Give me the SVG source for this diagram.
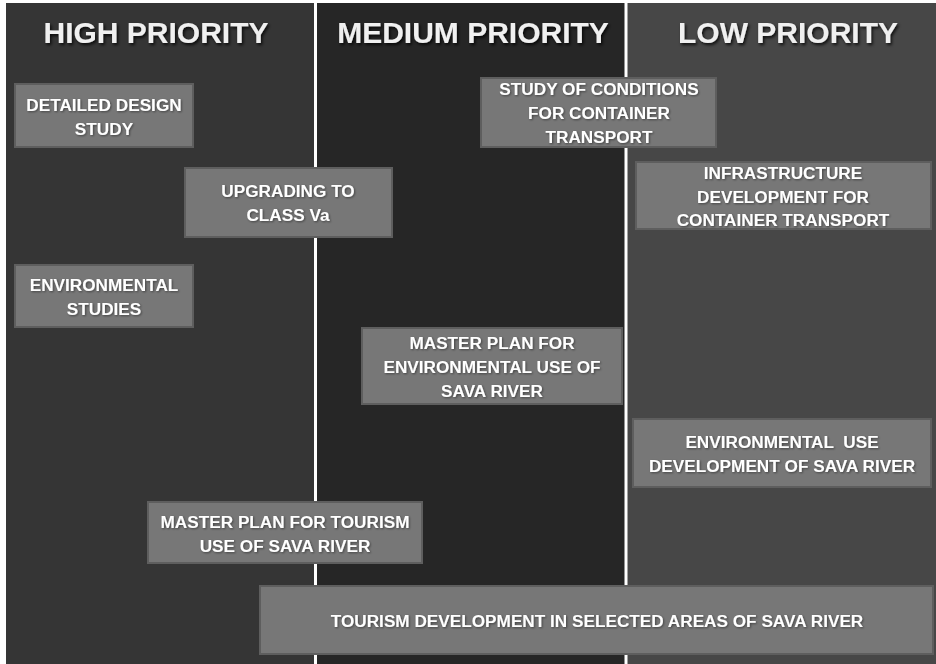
<svg xmlns="http://www.w3.org/2000/svg" width="936" height="664" viewBox="0 0 936 664">
  <defs>
    <filter id="hs" x="-10%" y="-30%" width="120%" height="160%">
      <feDropShadow dx="1.5" dy="2" stdDeviation="1.5" flood-color="#000" flood-opacity="0.8"/>
    </filter>
    <filter id="ts" x="-5%" y="-30%" width="110%" height="160%">
      <feDropShadow dx="1" dy="1" stdDeviation="0.8" flood-color="#000" flood-opacity="0.45"/>
    </filter>
  </defs>
  <style>
    .hdr { font-family: "Liberation Sans", Arial, sans-serif; font-weight: bold; font-size: 30px; fill: #f0f0f0; text-anchor: middle; }
    .box { fill: #777777; stroke: #5e5e5e; stroke-width: 2; }
    .lbl { font-family: "Liberation Sans", Arial, sans-serif; font-weight: bold; font-size: 17.2px; fill: #ffffff; text-anchor: middle; }
    .div { stroke: #ffffff; stroke-width: 3; }
  </style>
  <rect x="0" y="0" width="936" height="664" fill="#ffffff"/>
  <g id="columns">
    <rect x="6" y="3" width="309" height="661" fill="#353535"/>
    <rect x="315" y="3" width="311" height="661" fill="#262626"/>
    <rect x="626" y="3" width="310" height="661" fill="#474747"/>
  </g>
  <g id="connectors">
    <line class="div" x1="315.5" y1="3" x2="315.5" y2="664"/>
    <line class="div" x1="626" y1="3" x2="626" y2="664"/>
  </g>
  <g id="headers" filter="url(#hs)">
    <text class="hdr" x="156" y="43">HIGH PRIORITY</text>
    <text class="hdr" x="473" y="43">MEDIUM PRIORITY</text>
    <text class="hdr" x="788" y="43">LOW PRIORITY</text>
  </g>
  <g id="n1">
    <rect class="box" x="15" y="84" width="178" height="63"/>
    <text class="lbl" filter="url(#ts)" x="104" y="111">DETAILED DESIGN</text>
    <text class="lbl" filter="url(#ts)" x="104" y="135">STUDY</text>
  </g>
  <g id="n2">
    <rect class="box" x="185" y="168" width="207" height="69"/>
    <text class="lbl" filter="url(#ts)" x="288" y="197">UPGRADING TO</text>
    <text class="lbl" filter="url(#ts)" x="288" y="221">CLASS Va</text>
  </g>
  <g id="n3">
    <rect class="box" x="15" y="265" width="178" height="62"/>
    <text class="lbl" filter="url(#ts)" x="104" y="291">ENVIRONMENTAL</text>
    <text class="lbl" filter="url(#ts)" x="104" y="315">STUDIES</text>
  </g>
  <g id="n4">
    <rect class="box" x="481" y="78" width="235" height="69"/>
    <text class="lbl" filter="url(#ts)" x="599" y="95">STUDY OF CONDITIONS</text>
    <text class="lbl" filter="url(#ts)" x="599" y="119">FOR CONTAINER</text>
    <text class="lbl" filter="url(#ts)" x="599" y="143">TRANSPORT</text>
  </g>
  <g id="n5">
    <rect class="box" x="636" y="162" width="295" height="67"/>
    <text class="lbl" filter="url(#ts)" x="783" y="179">INFRASTRUCTURE</text>
    <text class="lbl" filter="url(#ts)" x="783" y="203">DEVELOPMENT FOR</text>
    <text class="lbl" filter="url(#ts)" x="783" y="226">CONTAINER TRANSPORT</text>
  </g>
  <g id="n6">
    <rect class="box" x="362" y="328" width="260" height="76"/>
    <text class="lbl" filter="url(#ts)" x="492" y="349">MASTER PLAN FOR</text>
    <text class="lbl" filter="url(#ts)" x="492" y="373">ENVIRONMENTAL USE OF</text>
    <text class="lbl" filter="url(#ts)" x="492" y="397">SAVA RIVER</text>
  </g>
  <g id="n7">
    <rect class="box" x="633" y="419" width="298" height="68"/>
    <text class="lbl" filter="url(#ts)" x="782" y="448" xml:space="preserve">ENVIRONMENTAL  USE</text>
    <text class="lbl" filter="url(#ts)" x="782" y="472">DEVELOPMENT OF SAVA RIVER</text>
  </g>
  <g id="n8">
    <rect class="box" x="148" y="502" width="274" height="61"/>
    <text class="lbl" filter="url(#ts)" x="285" y="528">MASTER PLAN FOR TOURISM</text>
    <text class="lbl" filter="url(#ts)" x="285" y="552">USE OF SAVA RIVER</text>
  </g>
  <g id="n9">
    <rect class="box" x="260" y="586" width="673" height="68"/>
    <text class="lbl" filter="url(#ts)" x="597" y="627">TOURISM DEVELOPMENT IN SELECTED AREAS OF SAVA RIVER</text>
  </g>
</svg>
